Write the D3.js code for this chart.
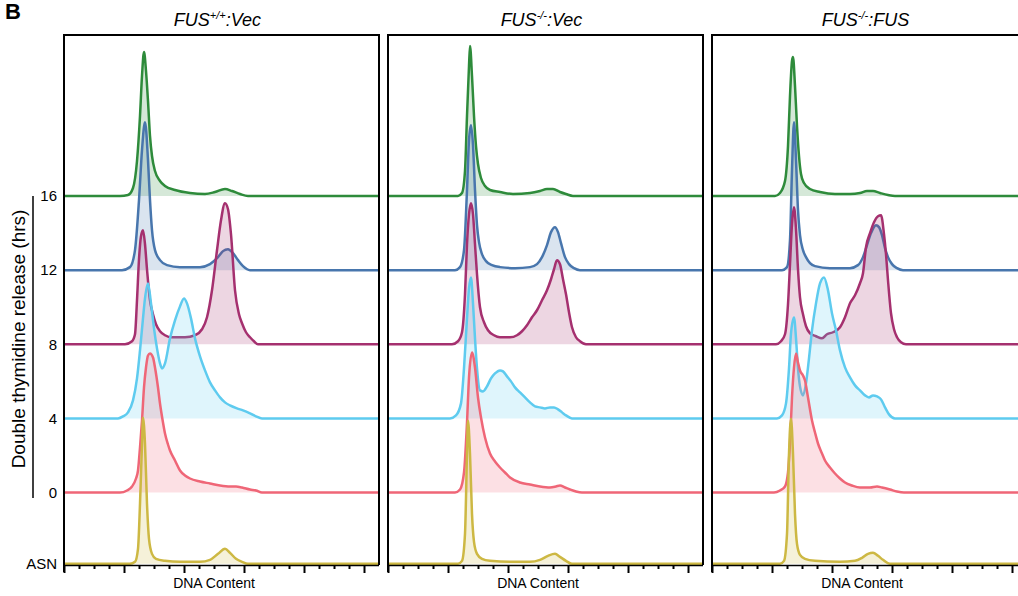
<!DOCTYPE html>
<html><head><meta charset="utf-8">
<script src="https://cdn.jsdelivr.net/npm/d3@7"></script>
<style>
body{margin:0;background:#fff;}
svg text{font-family:"Liberation Sans",Arial,Helvetica,sans-serif;}
</style></head>
<body><svg id="c" width="1018" height="596"></svg>
<script>
// ---------- data ----------
const titleMain = ["FUS", "FUS", "FUS"];
const titleSup = ["+/+", "-/-", "-/-"];
const titleTail = [":Vec", ":Vec", ":FUS"];
const timeLabels = ["16", "12", "8", "4", "0", "ASN"];
const timeHrs = [16, 12, 8, 4, 0, -3.85];
const lineColors = ["#2e8b3b", "#4876ad", "#a5306f", "#5ecbef", "#ef6677", "#cdb843"];
const xLabel = "DNA Content";
const yLabel = "Double thymidine release (hrs)";

// histograms: [DNA content, counts] per panel
const h16 = [
  [[56,0],[64,1],[69,8],[73,35],[76,80],[78,120],[80,144],[82,125],[84,95],[86,60],[88,40],[91,25],[96,15],[101,10],[111,6],[126,3],[141,2],[151,4],[161,7],[168,5],[176,2],[184,0]],
  [[70,0],[74,3],[77,25],[79,80],[81,130],[82,150],[84,120],[86,80],[88,50],[90,32],[93,18],[97,10],[102,6],[112,4],[125,2],[142,3],[152,5],[159,7],[165,7],[172,4],[178,2],[185,0]],
  [[63,0],[68,3],[73,15],[76,50],[78,100],[80,135],[81,139],[83,110],[85,70],[87,40],[89,22],[92,13],[98,7],[108,4],[123,2],[138,2],[148,3],[155,5],[161,5],[168,3],[176,1],[183,0]]
];
const h12 = [
  [[58,0],[66,3],[71,20],[75,70],[78,120],[81,148],[84,110],[86,70],[88,40],[91,20],[96,10],[103,5],[116,3],[136,3],[146,6],[154,13],[159,19],[164,21],[169,17],[174,10],[179,4],[186,0]],
  [[67,0],[72,3],[76,20],[79,80],[81,130],[83,145],[85,125],[87,80],[89,45],[91,28],[94,16],[98,9],[104,5],[112,3],[127,2],[142,3],[149,6],[154,13],[159,25],[163,38],[167,43],[170,38],[173,27],[177,13],[181,6],[186,2],[192,0]],
  [[70,0],[75,3],[78,30],[80,100],[82,148],[84,110],[86,60],[88,35],[91,20],[94,13],[98,7],[103,4],[118,2],[138,2],[146,5],[151,13],[155,25],[159,37],[164,45],[167,43],[170,35],[173,22],[176,13],[180,6],[185,2],[191,0]]
];
const h8 = [
  [[61,0],[68,3],[71,10],[73,44],[75,85],[77,108],[79,114],[81,100],[83,75],[86,44],[89,30],[92,20],[96,13],[101,9],[108,7],[121,7],[131,9],[138,15],[143,27],[148,54],[153,94],[157,124],[161,141],[164,135],[167,110],[171,54],[175,30],[178,21],[182,12],[186,7],[190,3],[194,0]],
  [[64,0],[70,3],[74,12],[77,50],[79,100],[81,130],[83,141],[85,130],[87,100],[89,70],[92,37],[96,22],[100,14],[106,9],[112,7],[122,7],[129,9],[134,13],[139,19],[144,27],[149,34],[154,44],[159,54],[163,65],[166,75],[169,84],[172,80],[175,65],[178,50],[181,32],[184,17],[188,7],[192,3],[198,0]],
  [[64,0],[69,3],[73,10],[76,40],[78,80],[80,120],[82,137],[84,115],[86,75],[88,47],[91,30],[94,18],[98,11],[104,8],[110,6],[115,10],[121,12],[128,17],[133,27],[138,41],[143,49],[148,61],[151,71],[154,97],[158,111],[162,122],[166,128],[169,129],[172,110],[174,90],[176,64],[179,31],[182,15],[185,7],[189,2],[194,0]]
];
const h4 = [
  [[54,0],[59,2],[64,6],[69,18],[73,40],[76,68],[79,100],[81,120],[84,135],[87,115],[90,90],[93,70],[96,55],[98,50],[101,55],[106,80],[111,98],[116,112],[120,120],[123,115],[127,100],[131,80],[136,62],[141,48],[146,36],[151,28],[156,21],[161,16],[166,13],[173,10],[179,8],[186,5],[192,2],[198,0]],
  [[62,0],[68,3],[73,15],[76,50],[79,100],[81,130],[83,141],[85,115],[87,80],[89,50],[92,28],[95,27],[99,32],[103,40],[107,45],[112,48],[115,47],[119,42],[123,37],[127,31],[132,26],[137,21],[142,16],[147,12],[152,11],[157,10],[162,11],[166,11],[170,9],[174,6],[178,3],[184,0]],
  [[65,0],[70,3],[74,15],[77,50],[79,85],[82,101],[84,80],[86,50],[88,32],[91,23],[94,35],[97,60],[100,88],[104,115],[108,135],[112,141],[116,128],[120,105],[124,88],[128,68],[133,51],[138,41],[143,33],[148,28],[153,23],[157,21],[161,23],[165,22],[169,19],[173,11],[177,4],[183,0]]
];
const h0 = [
  [[56,0],[63,2],[68,6],[72,14],[74,22],[76,45],[78,72],[80,105],[82,125],[84,137],[86,139],[89,135],[91,125],[94,105],[96,89],[99,70],[101,59],[104,48],[106,42],[111,32],[116,22],[121,17],[126,14],[136,11],[146,9],[156,7],[166,6],[172,6],[178,5],[186,3],[192,2],[198,0]],
  [[67,0],[72,3],[76,20],[79,70],[81,115],[84,140],[87,125],[90,95],[93,75],[97,55],[102,39],[107,31],[112,25],[117,20],[122,15],[132,10],[142,8],[152,6],[162,5],[168,6],[172,7],[177,5],[182,3],[188,1],[194,0]],
  [[62,0],[68,2],[73,6],[76,20],[78,50],[80,95],[82,125],[84,139],[86,130],[88,122],[91,117],[93,112],[96,95],[100,72],[103,60],[106,49],[110,39],[113,32],[118,25],[123,19],[128,14],[133,10],[140,7],[148,5],[158,5],[165,6],[170,5],[178,3],[185,1],[192,0]]
];
const hASN = [
  [[66,0],[71,2],[74,15],[76,60],[78,120],[79,146],[81,120],[83,60],[85,25],[88,10],[92,5],[101,3],[116,2],[136,2],[146,4],[154,10],[161,15],[166,11],[172,5],[178,2],[184,0]],
  [[70,0],[74,3],[77,30],[79,110],[80,143],[82,110],[84,50],[86,22],[89,10],[94,5],[102,3],[122,2],[142,2],[152,4],[160,8],[167,10],[172,7],[178,3],[184,0]],
  [[68,0],[72,3],[75,30],[77,110],[79,145],[81,110],[83,50],[85,20],[88,9],[93,5],[103,3],[128,2],[143,3],[150,6],[156,10],[161,11],[166,8],[171,4],[178,0]]
];
const histByTime = [h16, h12, h8, h4, h0, hASN];
const majorTicks = [0, 60, 120, 180, 240, 300];
const minorTicks = [15,30,45,75,90,105,135,150,165,195,210,225,255,270,285];

// ---------- layout ----------
const svg = d3.select("#c");
const panelLeft = [64, 388, 712];
const panelW = 315, topY = 35, axisY = 565;
const yHrs = d3.scaleLinear().domain([0, 16]).range([492.5, 196]);
const amp = d3.scaleLinear().domain([0, 150]).range([0, 150]);

svg.append("text").attr("x", 5).attr("y", 19).attr("font-size", 22).attr("font-weight", "bold").text("B");

panelLeft.forEach((L, p) => {
  const x = d3.scaleLinear().domain([0, panelW]).range([L, L + panelW]);
  const g = svg.append("g");
  histByTime.forEach((hs, t) => {
    const base = yHrs(timeHrs[t]);
    const pts = [[0, 0], ...hs[p], [panelW, 0]];
    const area = d3.area().x(d => x(d[0])).y0(base).y1(d => base - amp(d[1])).curve(d3.curveMonotoneX);
    const line = d3.line().x(d => x(d[0])).y(d => base - amp(d[1])).curve(d3.curveMonotoneX);
    g.append("path").attr("d", area(pts)).attr("fill", lineColors[t]).attr("fill-opacity", 0.2);
    g.append("path").attr("d", line(pts)).attr("fill", "none").attr("stroke", lineColors[t]).attr("stroke-width", 2.5).attr("stroke-linejoin", "round");
  });
  g.append("path").attr("d", `M${L},${axisY + 7}V${topY}H${L + panelW}V${axisY}`)
    .attr("fill", "none").attr("stroke", "#000").attr("stroke-width", 2);
  const axMaj = d3.axisBottom(x).tickValues(majorTicks).tickSize(8).tickSizeOuter(0).tickFormat("");
  const axMin = d3.axisBottom(x).tickValues(minorTicks).tickSize(4).tickSizeOuter(0).tickFormat("");
  const ga = svg.append("g").attr("transform", `translate(0,${axisY})`).call(axMaj);
  ga.select(".domain").attr("stroke-width", 1.5).attr("d", `M${L},0.5H${L + panelW}`);
  ga.selectAll(".tick line").attr("stroke-width", 2);
  const gm = svg.append("g").attr("transform", `translate(0,${axisY})`).call(axMin);
  gm.select(".domain").remove();
  gm.selectAll(".tick line").attr("stroke-width", 2);
  svg.append("text").attr("x", x(150)).attr("y", 588).attr("text-anchor", "middle").attr("font-size", 14).text(xLabel);
  const tt = svg.append("text").attr("x", L + panelW / 2 - 4).attr("y", 26).attr("text-anchor", "middle")
    .attr("font-size", 18).attr("font-style", "italic");
  tt.append("tspan").text(titleMain[p]);
  tt.append("tspan").attr("font-size", 11).attr("dy", -7).text(titleSup[p]);
  tt.append("tspan").attr("dy", 7).text(titleTail[p]);
});

const yAx = d3.axisLeft(yHrs).tickValues(timeHrs).tickSize(0).tickPadding(0).tickFormat((d, i) => timeLabels[i]);
const gy = svg.append("g").attr("transform", "translate(57,0)").call(yAx);
gy.select(".domain").remove();
gy.selectAll("text").attr("font-size", 15).attr("font-family", '"Liberation Sans",Arial,sans-serif').attr("fill", "#000");

svg.append("line").attr("x1", 33).attr("x2", 33).attr("y1", yHrs(16)).attr("y2", 498).attr("stroke", "#000").attr("stroke-width", 1.5);
svg.append("text").attr("transform", "translate(25,339) rotate(-90)").attr("text-anchor", "middle").attr("font-size", 19).text(yLabel);
</script></body></html>
